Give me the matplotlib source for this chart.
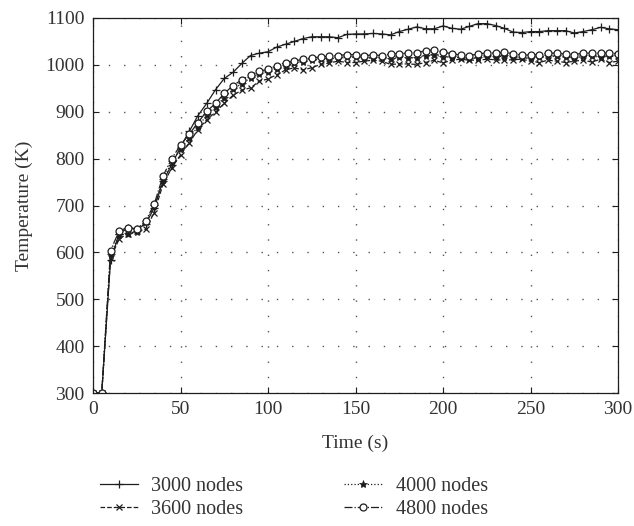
"""
Temperature history for four mesh densities.
"""

import numpy as np
import matplotlib
matplotlib.use("Agg")
import matplotlib.pyplot as plt

# ------------------------------------------------------------------
time_s = list(range(0, 301, 5))

temp_3000 = [300, 300, 583, 640, 652, 650, 660, 695, 752, 787,
             825, 858, 892, 918, 947, 971, 984, 1003, 1020, 1025,
             1028, 1038, 1044, 1050, 1056, 1060, 1060, 1060, 1058, 1065,
             1066, 1066, 1067, 1066, 1064, 1071, 1076, 1081, 1077, 1077,
             1083, 1078, 1076, 1082, 1088, 1088, 1084, 1078, 1070, 1069,
             1071, 1071, 1073, 1073, 1073, 1068, 1071, 1075, 1080, 1077,
             1075]

temp_3600 = [300, 300, 587, 629, 640, 645, 649, 685, 745, 780,
             808, 834, 862, 883, 899, 918, 935, 946, 951, 965,
             970, 979, 989, 994, 989, 994, 1001, 1004, 1008, 1005,
             1005, 1008, 1010, 1008, 1001, 1002, 1002, 1001, 1005, 1010,
             1004, 1010, 1012, 1010, 1010, 1012, 1011, 1010, 1011, 1012,
             1008, 1005, 1010, 1008, 1005, 1008, 1010, 1006, 1012, 1005,
             1008]

temp_4000 = [300, 300, 594, 638, 639, 643, 664, 698, 755, 793,
             820, 845, 868, 893, 911, 930, 948, 960, 972, 980,
             985, 992, 998, 1003, 1007, 1010, 1012, 1013, 1014, 1016,
             1016, 1014, 1015, 1014, 1013, 1016, 1015, 1015, 1020, 1022,
             1016, 1017, 1015, 1013, 1015, 1018, 1017, 1019, 1016, 1014,
             1014, 1016, 1018, 1018, 1016, 1015, 1018, 1018, 1017, 1018,
             1018]

temp_4800 = [300, 300, 604, 646, 653, 650, 666, 703, 763, 800,
             829, 852, 877, 901, 918, 939, 956, 968, 979, 986,
             991, 998, 1005, 1008, 1012, 1015, 1017, 1018, 1020, 1022,
             1022, 1020, 1021, 1020, 1023, 1024, 1025, 1026, 1030, 1032,
             1027, 1024, 1021, 1020, 1023, 1026, 1025, 1027, 1024, 1021,
             1021, 1022, 1025, 1025, 1023, 1022, 1025, 1025, 1025, 1025,
             1024]

labels = ["3000 nodes", "3600 nodes", "4000 nodes", "4800 nodes"]
x_ticks = [0, 50, 100, 150, 200, 250, 300]
y_ticks = [300, 400, 500, 600, 700, 800, 900, 1000, 1100]

INK = "#1e1e1e"
TXT = "#333333"
plt.rcParams["font.family"] = ["Liberation Serif", "DejaVu Serif"]
plt.rcParams["font.size"] = 14

fig = plt.figure(figsize=(6.34, 5.26), dpi=100)
ax = fig.add_axes([93 / 634, 1 - 393 / 526, 525 / 634, 375 / 526])

ax.plot(time_s, temp_3000, color=INK, lw=0.9, ls="-", marker="+", ms=6,
        mew=0.9, label=labels[0])
ax.plot(time_s, temp_3600, color=INK, lw=0.9, ls="--", marker="x", ms=5,
        mew=0.9, label=labels[1])
ax.plot(time_s, temp_4000, color=INK, lw=0.9, ls=":", marker="*", ms=6,
        mew=0.5, label=labels[2])
ax.plot(time_s, temp_4800, color=INK, lw=0.9, ls="-.", marker="o", ms=5,
        mew=0.9, mfc="white", label=labels[3])

ax.set_xlim(0, 300)
ax.set_ylim(300, 1100)
ax.set_xticks(x_ticks)
ax.set_yticks(y_ticks)
ax.grid(True, color=INK, lw=1.0, ls=(0, (1, 10)), alpha=0.75)
ax.tick_params(direction="in", top=True, right=True, length=4, width=0.8,
               colors=INK, labelcolor=TXT, pad=6)
for s in ax.spines.values():
    s.set_color(INK)
    s.set_linewidth(0.9)

ax.set_xlabel("Time (s)", color=TXT, labelpad=12)
ax.set_ylabel("Temperature (K)", color=TXT, labelpad=9)

fig.legend(loc="upper left", bbox_to_anchor=(90 / 634, 1 - 467 / 526),
           ncol=2, frameon=False, handlelength=1.9, handletextpad=0.65,
           columnspacing=5.0, labelspacing=0.2, borderpad=0,
           fontsize=14.5, labelcolor=TXT)

fig.savefig("out.png", dpi=100)
